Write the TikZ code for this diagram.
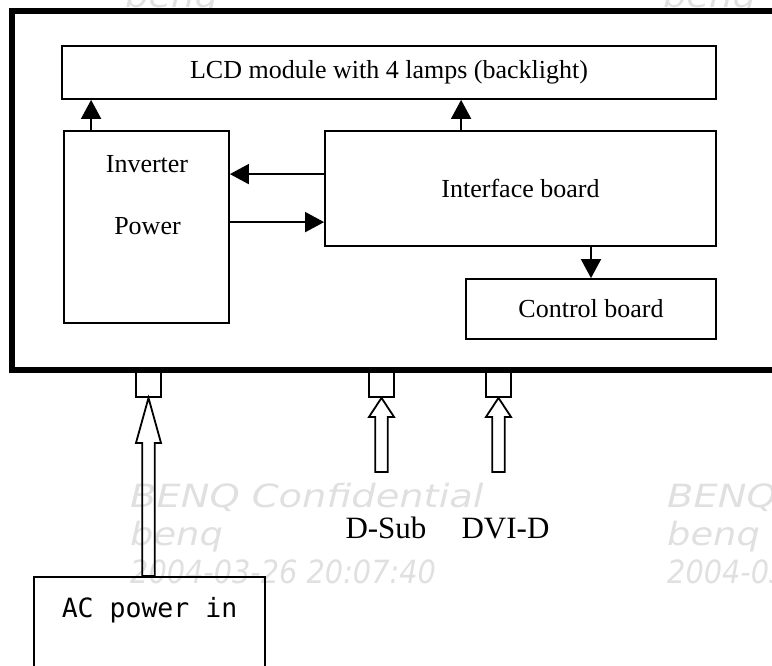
\documentclass[tikz,border=0pt]{standalone}
\usepackage{fontspec}
\setmainfont{Liberation Serif}
\newfontfamily\acfont{DejaVu Sans Mono}
\newfontfamily\wmfont{DejaVu Sans}
\usepackage{tikz}
\usetikzlibrary{calc,arrows.meta}
\definecolor{wmgray}{HTML}{E0E0E0}
\definecolor{ink}{HTML}{000000}

\begin{document}
\begin{tikzpicture}[x=1pt,y=-1pt,
  box/.style={draw=ink, line width=1.8pt, inner sep=0pt, font=\fontsize{26}{31}\selectfont},
  flow/.style={draw=ink, line width=1.8pt, -{Triangle[length=19pt,width=20pt]}},
  port/.style={draw=ink, line width=1.8pt, minimum width=25pt, minimum height=26pt, inner sep=0pt},
  lbl/.style={text=ink, inner sep=0pt, anchor=base, font=\fontsize{26}{31}\selectfont},
  wmark/.style={text=wmgray, inner sep=0pt, anchor=base west, font=\wmfont\itshape\fontsize{32}{38}\selectfont}]
\useasboundingbox (0,0) rectangle (772,666);
\clip (0,0) rectangle (772,666);
\def\inarrow#1#2#3{
  \draw[draw=ink, line width=1.8pt] let \p1=(#1), \p2=(#2) in
    (\x2-6.25pt,\y1) -- (\x2-6.25pt,\y2-#3pt) -- (\x2-12.5pt,\y2-#3pt) -- (\x2,\y2)
    -- (\x2+12.5pt,\y2-#3pt) -- (\x2+6.25pt,\y2-#3pt) -- (\x2+6.25pt,\y1) -- cycle;
}
% watermark
\foreach \wx/\wy [count=\k] in {130/507,667/507}{
  \node[wmark] (wma\k) at (\wx,\wy) {\scalebox{1.2}[1]{BENQ Confidential}};
  \node[wmark] (wmb\k) at (\wx,\wy+38) {\scalebox{1.15}[1]{benq}};
  \node[wmark] (wmc\k) at (\wx,\wy+76) {\scalebox{0.9}[1]{2004-03-26 20:07:40}};
}
\foreach \wx [count=\k] in {125,663}
  \node[wmark] (wmt\k) at (\wx,8) {\scalebox{1.15}[1]{benq}};
% connectors on the housing
\foreach \px/\pname in {148.5/acport,381.5/dsubport,498.5/dviport}
  \node[port] (\pname) at (\px,384) {};
\node[draw=ink, line width=5.5pt, minimum width=780pt, minimum height=359pt, inner sep=0pt] (panel) at (402,190.5) {};
% boards
\node[box, minimum width=654pt, minimum height=53pt] (lcd) at (389,72.5) {LCD module with 4 lamps (backlight)};
\node[box, minimum width=165pt, minimum height=192pt] (inv) at (146.5,227) {};
\node[lbl] (invname) at (147,173) {Inverter};
\node[lbl] (powname) at (147.5,235) {Power};
\node[box, minimum width=391pt, minimum height=115pt] (iface) at (520.5,188.5) {Interface board};
\node[box, minimum width=250pt, minimum height=60pt] (ctrl) at (591,309) {Control board};
\coordinate (invtop) at ([xshift=28pt]inv.north west);
\coordinate (ifacetop) at ([xshift=137pt]iface.north west);
\coordinate (ifaceleft) at ([yshift=-44pt]iface.north west);
\coordinate (invright) at ([yshift=-92pt]inv.north east);
\draw[flow] (invtop) -- (invtop |- lcd.south);
\draw[flow] (ifacetop) -- (ifacetop |- lcd.south);
\draw[flow] (ifaceleft) -- (ifaceleft -| inv.east);
\draw[flow] (invright) -- (invright -| iface.west);
\draw[flow] (iface.south -| ctrl.north) -- (ctrl.north);
% inputs
\node[box, minimum width=231pt, minimum height=143pt] (acbox) at (149.5,648.5) {};
\node[lbl, font=\acfont\fontsize{26.5}{31}\selectfont] (actext) at (149.5,617) {AC power in};
\coordinate (dsubtail) at (381.5,472);
\coordinate (dvitail) at (498.5,472);
\inarrow{acbox.north}{acport.south}{45}
\inarrow{dsubtail}{dsubport.south}{19}
\inarrow{dvitail}{dviport.south}{19}
\node[lbl, font=\fontsize{31}{36}\selectfont] (dsub) at (386,538) {D-Sub};
\node[lbl, font=\fontsize{31}{36}\selectfont] (dvi) at (505.5,538) {DVI-D};
\end{tikzpicture}
\end{document}
